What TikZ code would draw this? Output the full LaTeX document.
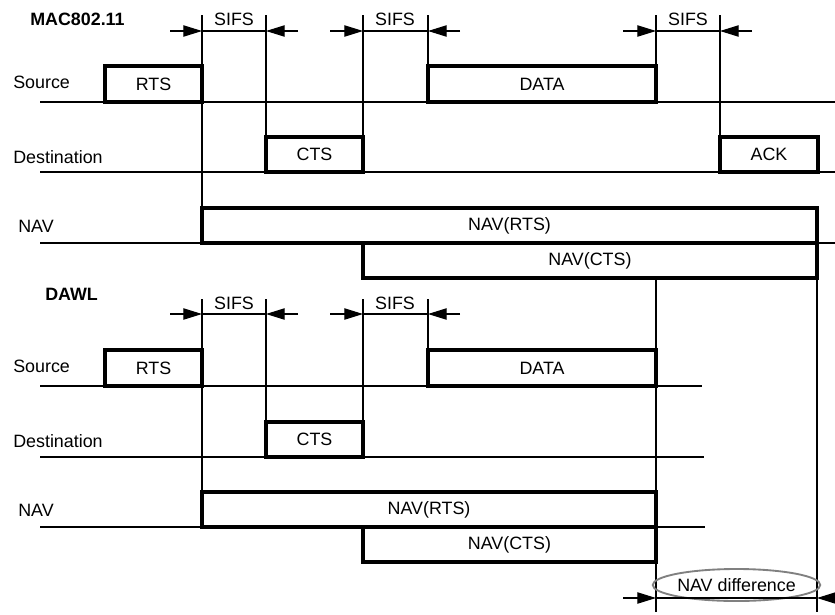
\documentclass[tikz,border=0pt]{standalone}
\usepackage{fontspec}
\setmainfont{Liberation Sans}
\usetikzlibrary{arrows.meta,shapes.geometric}

\begin{document}
\begin{tikzpicture}[x=0.75pt,y=-0.75pt,
    >={Triangle[length=14pt,width=8.5pt]},
    every node/.style={font=\fontsize{13.4}{16}\selectfont},
    rule/.style={line width=0.8pt},
    frame/.style={draw,line width=2.4pt,inner sep=0pt,minimum height=26.25pt},
    lbl/.style={anchor=base west,inner sep=0pt},
    head/.style={lbl,font=\fontsize{13.4}{16}\selectfont\bfseries},
    gap/.style={anchor=base,inner sep=0pt}
  ]
  \useasboundingbox (0,0) rectangle (835,614);

  % ---- MAC 802.11 ----
  \node[head] (maca) at (30,25) {MAC802.11};
  \node[lbl] (srca) at (13,88) {Source};
  \node[lbl] (dsta) at (13,163) {Destination};
  \node[lbl] (nava) at (18,232) {NAV};

  \draw[rule] (40,102) -- (835,102);
  \draw[rule] (40,172) -- (835,172);
  \draw[rule] (40,243) -- (835,243);

  \node[frame,minimum width=72.75pt,minimum height=27pt] (rtsa) at (153.5,84) {RTS};
  \node[frame,minimum width=171pt,minimum height=27pt] (dataa) at (542,84) {DATA};
  \node[frame,minimum width=72.75pt] (ctsa) at (314.5,154.5) {CTS};
  \node[frame,minimum width=73.5pt] (acka) at (769,154.5) {ACK};
  \node[frame,minimum width=461.25pt] (navrtsa) at (509.5,225.5) {NAV(RTS)};
  \node[frame,minimum width=340.5pt] (navctsa) at (590,260.5) {NAV(CTS)};

  \coordinate (t1a) at (202,15);
  \coordinate (t2a) at (266,15);
  \coordinate (t3a) at (363,15);
  \coordinate (t4a) at (428,15);
  \coordinate (t5a) at (656,15);
  \coordinate (t6a) at (720,15);
  \draw[rule] (t1a) -- (t1a |- navrtsa.north);
  \draw[rule] (t2a) -- (t2a |- ctsa.north);
  \draw[rule] (t3a) -- (t3a |- ctsa.north);
  \draw[rule] (t4a) -- (t4a |- dataa.north);
  \draw[rule] (t5a) -- (t5a |- dataa.north);
  \draw[rule] (t6a) -- (t6a |- acka.north);

  \node[gap] (sifs1a) at (234,25) {SIFS};
  \node[gap] (sifs2a) at (395,25) {SIFS};
  \node[gap] (sifs3a) at (688,25) {SIFS};
  \draw[rule,->] (170,31) -- (202,31);
  \draw[rule] (202,31) -- (266,31);
  \draw[rule,->] (298,31) -- (266,31);
  \draw[rule,->] (330,31) -- (363,31);
  \draw[rule] (363,31) -- (428,31);
  \draw[rule,->] (460,31) -- (428,31);
  \draw[rule,->] (623,31) -- (656,31);
  \draw[rule] (656,31) -- (720,31);
  \draw[rule,->] (752,31) -- (720,31);

  % ---- DAWL ----
  \node[head] (dawl) at (45,300) {DAWL};
  \node[lbl] (srcb) at (13,372) {Source};
  \node[lbl] (dstb) at (13,447) {Destination};
  \node[lbl] (navb) at (18,516) {NAV};

  \draw[rule] (40,386) -- (702,386);
  \draw[rule] (40,457) -- (704,457);
  \draw[rule] (40,527) -- (705,527);

  \node[frame,minimum width=72.75pt,minimum height=27pt] (rtsb) at (153.5,368) {RTS};
  \node[frame,minimum width=171pt,minimum height=27pt] (datab) at (542,368) {DATA};
  \node[frame,minimum width=72.75pt] (ctsb) at (314.5,439.5) {CTS};
  \node[frame,minimum width=340.5pt] (navrtsb) at (429,509.5) {NAV(RTS)};
  \node[frame,minimum width=219.75pt] (navctsb) at (509.5,544.5) {NAV(CTS)};

  \coordinate (t1b) at (202,299);
  \coordinate (t2b) at (266,299);
  \coordinate (t3b) at (363,299);
  \coordinate (t4b) at (428,299);
  \draw[rule] (t1b) -- (t1b |- navrtsb.north);
  \draw[rule] (t2b) -- (t2b |- ctsb.north);
  \draw[rule] (t3b) -- (t3b |- ctsb.north);
  \draw[rule] (t4b) -- (t4b |- datab.north);

  \node[gap] (sifs1b) at (234,309) {SIFS};
  \node[gap] (sifs2b) at (395,309) {SIFS};
  \draw[rule,->] (170,314) -- (202,314);
  \draw[rule] (202,314) -- (266,314);
  \draw[rule,->] (298,314) -- (266,314);
  \draw[rule,->] (330,314) -- (363,314);
  \draw[rule] (363,314) -- (428,314);
  \draw[rule,->] (460,314) -- (428,314);

  % ---- NAV difference ----
  \coordinate (endb) at (656,612);
  \coordinate (enda) at (817,612);
  \draw[rule] (endb |- navctsa.south) -- (endb);
  \draw[rule] (enda |- navctsa.south) -- (enda);
  \node[ellipse,draw=gray,line width=1.4pt,minimum width=120pt,
    minimum height=24pt,inner sep=0pt] (navdiff) at (736.5,585) {NAV difference};
  \draw[rule,->] (623,598) -- (656,598);
  \draw[rule] (656,598) -- (817,598);
  \draw[rule,->] (852,598) -- (817,598);
\end{tikzpicture}
\end{document}
